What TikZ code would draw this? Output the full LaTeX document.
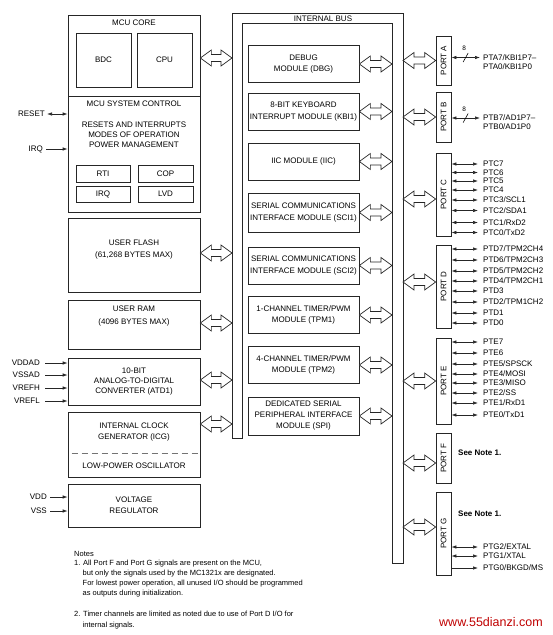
\documentclass[tikz,border=0pt]{standalone}
\usepackage{fontspec}
\setmainfont{Liberation Sans}
\usepackage{tikz}
\usetikzlibrary{calc}
\usetikzlibrary{arrows.meta}
\usetikzlibrary{positioning}
\tikzstyle{blk}=[draw=black!85, line width=0.7pt, shape=rectangle, inner sep=0pt, align=center]
\tikzstyle{modbox}=[blk, minimum width=111pt, minimum height=37pt, font=\fontsize{8}{11.5}\selectfont]
\tikzstyle{portbox}=[blk, minimum width=15pt]
\tikzstyle{txt}=[inner sep=0pt, align=center]
\tikzstyle{lbl}=[inner sep=0pt]
\tikzstyle{notetxt}=[inner sep=0pt, align=left, font=\fontsize{7.5}{10}\selectfont]
\tikzstyle{inarrow}=[-{Latex[length=5pt, width=3.5pt]}, line width=0.7pt, color=black!85]
\tikzstyle{pinarrow}=[{Latex[length=5pt, width=3.5pt]}-{Latex[length=5pt, width=3.5pt]}, line width=0.7pt, color=black!85]
\tikzstyle{hollow}=[draw=black!85, line width=0.7pt, fill=white]
\newcommand*{\busarrow}[2]{%
  \draw[hollow] let \p1=#1, \p2=#2 in
    (\x1,\y1) -- (\x1+11pt,\y1+8pt) -- (\x1+11pt,\y1+3.5pt)
    -- (\x2-11pt,\y1+3.5pt) -- (\x2-11pt,\y1+8pt) -- (\x2,\y1)
    -- (\x2-11pt,\y1-8pt) -- (\x2-11pt,\y1-3.5pt)
    -- (\x1+11pt,\y1-3.5pt) -- (\x1+11pt,\y1-8pt) -- cycle;}
\begin{document}
\begin{tikzpicture}[x=1pt, y=-1pt, font=\fontsize{8}{10}\selectfont]
\useasboundingbox (0,0) rectangle (553,635);

% left column
\node [blk, minimum width=132pt, minimum height=81pt] (core) at (134,55.5) {};
\node [blk, minimum width=132pt, minimum height=116pt] (sysctl) at (134,154) {};
\node [blk, minimum width=55pt, minimum height=54pt] (bdc) at (103.5,60) {BDC};
\node [blk, minimum width=55pt, minimum height=54pt] (cpu) at (164.5,60) {CPU};
\node [txt] (coret) at (134,23) {MCU CORE};
\node [txt] (sysctlt) at (134,104) {MCU SYSTEM CONTROL};
\node [txt] (modes) at (134,135) {RESETS AND INTERRUPTS\\MODES OF OPERATION\\POWER MANAGEMENT};
\node [blk, minimum width=54pt, minimum height=17pt] (rti) at (103,173.5) {RTI};
\node [blk, minimum width=55pt, minimum height=17pt] (cop) at (165.5,173.5) {COP};
\node [blk, minimum width=54pt, minimum height=16pt] (irqb) at (103,194) {IRQ};
\node [blk, minimum width=55pt, minimum height=16pt] (lvd) at (165.5,194) {LVD};
\node [blk, minimum width=132pt, minimum height=74pt] (flash) at (134,255) {};
\node [txt] (flasht) at (134,250) {USER FLASH\\[2pt](61,268 BYTES MAX)};
\node [blk, minimum width=132pt, minimum height=49pt] (ram) at (134,324.5) {};
\node [txt] (ramt) at (134,316.5) {USER RAM\\[3pt](4096 BYTES MAX)};
\node [blk, minimum width=132pt, minimum height=47pt] (atd) at (134,381.5) {10-BIT\\ANALOG-TO-DIGITAL\\CONVERTER (ATD1)};
\node [blk, minimum width=132pt, minimum height=65pt] (icg) at (134,444.5) {};
\node [txt] (icgt) at (134,432.5) {INTERNAL CLOCK\\[1pt]GENERATOR (ICG)};
\node [txt] (osct) at (134,466) {LOW-POWER OSCILLATOR};
\draw[dash pattern=on 6pt off 4pt, line width=1pt, color=black!55] ([xshift=4pt]icg.west |- osct.north) ++(0pt,9pt) coordinate (dashL) -- (dashL -| icg.east);
\node [blk, minimum width=132pt, minimum height=43pt, font=\fontsize{8}{11}\selectfont] (vreg) at (134,505.5) {VOLTAGE\\REGULATOR};

% inputs
\node [lbl, anchor=east] (reset) at (45,114) {RESET};
\node [lbl, anchor=east] (irq) at (43,149) {IRQ};
\draw[pinarrow] ([xshift=2pt]reset.east) -- (reset.east -| sysctl.west);
\draw[inarrow] ([xshift=3pt]irq.east) -- (irq.east -| sysctl.west);
\foreach \t/\y in {VDDAD/363, VSSAD/375, VREFH/388, VREFL/401} {
  \node [lbl, anchor=east] (\t) at (40,\y) {\t};
  \draw[inarrow] ([xshift=5pt]\t.east) -- (\t.east -| atd.west);
}
\foreach \t/\y in {VDD/497, VSS/511} {
  \node [lbl, anchor=east] (\t) at (47,\y) {\t};
  \draw[inarrow] ([xshift=3pt]\t.east) -- (\t.east -| vreg.west);
}

% internal bus
\coordinate (busLout) at (232,0);
\coordinate (busRin) at (392,0);
\coordinate (busRout) at (403,0);
\draw[line width=0.7pt, color=black!85] (242,438) -- (232,438) -- (232,13) -- (403,13) -- (403,563) -- (392,563) -- (392,23) -- (242,23) -- cycle;
\node [txt] (bust) at (323,18.5) {INTERNAL BUS};

% modules
\node [modbox] (dbg) at (303.5,64) {DEBUG\\MODULE (DBG)};
\node [modbox] (kbi) at (303.5,111.5) {8-BIT KEYBOARD\\INTERRUPT MODULE (KBI1)};
\node [modbox] (iic) at (303.5,161.5) {IIC MODULE (IIC)};
\node [modbox, minimum height=39pt] (sci1) at (303.5,212.5) {SERIAL COMMUNICATIONS\\INTERFACE MODULE (SCI1)};
\node [modbox] (sci2) at (303.5,265.5) {SERIAL COMMUNICATIONS\\INTERFACE MODULE (SCI2)};
\node [modbox] (tpm1) at (303.5,315) {1-CHANNEL TIMER/PWM\\MODULE (TPM1)};
\node [modbox] (tpm2) at (303.5,365) {4-CHANNEL TIMER/PWM\\MODULE (TPM2)};
\node [modbox, minimum height=38pt, font=\fontsize{8}{11}\selectfont] (spi) at (303.5,416) {DEDICATED SERIAL\\PERIPHERAL INTERFACE\\MODULE (SPI)};

% ports
\node [portbox, minimum height=49pt, label={[rotate=90]center:PORT A}] (portA) at (443.5,60.5) {};
\node [portbox, minimum height=50pt, label={[rotate=90]center:PORT B}] (portB) at (443.5,117) {};
\node [portbox, minimum height=83pt, label={[rotate=90]center:PORT C}] (portC) at (443.5,194.5) {};
\node [portbox, minimum height=83pt, label={[rotate=90]center:PORT D}] (portD) at (443.5,286.5) {};
\node [portbox, minimum height=86pt, label={[rotate=90]center:PORT E}] (portE) at (443.5,381) {};
\node [portbox, minimum height=50pt, label={[rotate=90]center:PORT F}] (portF) at (443.5,458) {};
\node [portbox, minimum height=83pt, label={[rotate=90]center:PORT G}] (portG) at (443.5,533.5) {};

% bus arrows
\busarrow{([yshift=-2.5pt]core.east)}{(core.east -| busLout)}
\busarrow{([yshift=2pt]flash.east)}{(flash.east -| busLout)}
\busarrow{([yshift=1.5pt]ram.east)}{(ram.east -| busLout)}
\busarrow{([yshift=1.5pt]atd.east)}{(atd.east -| busLout)}
\busarrow{([yshift=20.5pt]icg.east)}{(icg.east -| busLout)}
\foreach \m in {dbg,kbi,iic,sci1,sci2,tpm1,tpm2,spi}
  \busarrow{(\m.east)}{(\m.east -| busRin)};
\busarrow{(busRout |- portA.west)}{(portA.west)}
\busarrow{(busRout |- portB.west)}{(portB.west)}
\busarrow{([yshift=-4.5pt]busRout |- portC.west)}{(portC.west)}
\busarrow{([yshift=4.5pt]busRout |- portD.west)}{(portD.west)}
\busarrow{(busRout |- portE.west)}{(portE.west)}
\busarrow{([yshift=-5pt]busRout |- portF.west)}{(portF.west)}
\busarrow{([yshift=6.5pt]busRout |- portG.west)}{(portG.west)}

% port pins
\node [lbl, anchor=west] (pinA7) at (483,57.5) {PTA7/KBI1P7–};
\node [lbl, anchor=west] (pinA0) at (483,66.5) {PTA0/KBI1P0};
\draw[pinarrow] (portA.east |- pinA7.west) -- ([xshift=-3pt]pinA7.west) coordinate[pos=0.5] (slA);
\draw[line width=0.6pt] ([shift={(-2.5pt,-4.5pt)}]slA) -- ([shift={(2.5pt,4.5pt)}]slA);
\node [lbl, font=\fontsize{6.5}{7}\selectfont] (eightA) at ([shift={(-1.5pt,9pt)}]slA) {8};
\node [lbl, anchor=west] (pinB7) at (483,118) {PTB7/AD1P7–};
\node [lbl, anchor=west] (pinB0) at (483,127) {PTB0/AD1P0};
\draw[pinarrow] (portB.east |- pinB7.west) -- ([xshift=-3pt]pinB7.west) coordinate[pos=0.5] (slB);
\draw[line width=0.6pt] ([shift={(-2.5pt,-4.5pt)}]slB) -- ([shift={(2.5pt,4.5pt)}]slB);
\node [lbl, font=\fontsize{6.5}{7}\selectfont] (eightB) at ([shift={(-1.5pt,9pt)}]slB) {8};
\foreach \t/\y [count=\i] in {PTC7/164, PTC6/172.5, PTC5/181, PTC4/190, {PTC3/SCL1}/200, {PTC2/SDA1}/210.5, {PTC1/RxD2}/222.5, {PTC0/TxD2}/232.5} {
  \node [lbl, anchor=west] (pinC\i) at (483,\y) {\t};
  \draw[pinarrow] (portC.east |- pinC\i.west) -- ([xshift=-5pt]pinC\i.west);
}
\foreach \t/\y [count=\i] in {{PTD7/TPM2CH4}/249, {PTD6/TPM2CH3}/260, {PTD5/TPM2CH2}/271, {PTD4/TPM2CH1}/281, PTD3/291, {PTD2/TPM1CH2}/302, PTD1/313, PTD0/323} {
  \node [lbl, anchor=west] (pinD\i) at (483,\y) {\t};
  \draw[pinarrow] (portD.east |- pinD\i.west) -- ([xshift=-5pt]pinD\i.west);
}
\foreach \t/\y [count=\i] in {PTE7/342, PTE6/353, {PTE5/SPSCK}/364, {PTE4/MOSI}/374, {PTE3/MISO}/383, {PTE2/SS}/393, {PTE1/RxD1}/403, {PTE0/TxD1}/415} {
  \node [lbl, anchor=west] (pinE\i) at (483,\y) {\t};
  \draw[pinarrow] (portE.east |- pinE\i.west) -- ([xshift=-5pt]pinE\i.west);
}
\node [lbl, anchor=west, font=\fontsize{8}{10}\bfseries] (noteF) at (458,453) {See Note 1.};
\node [lbl, anchor=west, font=\fontsize{8}{10}\bfseries] (noteG) at (458,514) {See Note 1.};
\node [lbl, anchor=west] (pinG2) at (483,547) {PTG2/EXTAL};
\node [lbl, anchor=west] (pinG1) at (483,556) {PTG1/XTAL};
\node [lbl, anchor=west] (pinG0) at (483,568) {PTG0/BKGD/MS};
\draw[pinarrow] (portG.east |- pinG2.west) -- ([xshift=-5pt]pinG2.west);
\draw[pinarrow] (portG.east |- pinG1.west) -- ([xshift=-5pt]pinG1.west);
\draw[inarrow] (portG.east |- pinG0.west) -- ([xshift=-5pt]pinG0.west);

% notes
\node [notetxt, anchor=base west] (notes) at (74,556.7) {Notes};
\node [notetxt, anchor=north west] (note1) at (74,559.6) {1. All Port F and Port G signals are present on the MCU,\\\hspace*{8.5pt}but only the signals used by the MC1321x are designated.\\\hspace*{8.5pt}For lowest power operation, all unused I/O should be programmed\\\hspace*{8.5pt}as outputs during initialization.};
\node [notetxt, anchor=north west, font=\fontsize{7.5}{11}\selectfont] (note2) at (74,610.6) {2. Timer channels are limited as noted due to use of Port D I/O for\\\hspace*{8.5pt}internal signals.};
\node [lbl, anchor=west, text=red!75!black, font=\fontsize{12.5}{12}\selectfont] (wm) at (439,622) {www.55dianzi.com};
\end{tikzpicture}
\end{document}
